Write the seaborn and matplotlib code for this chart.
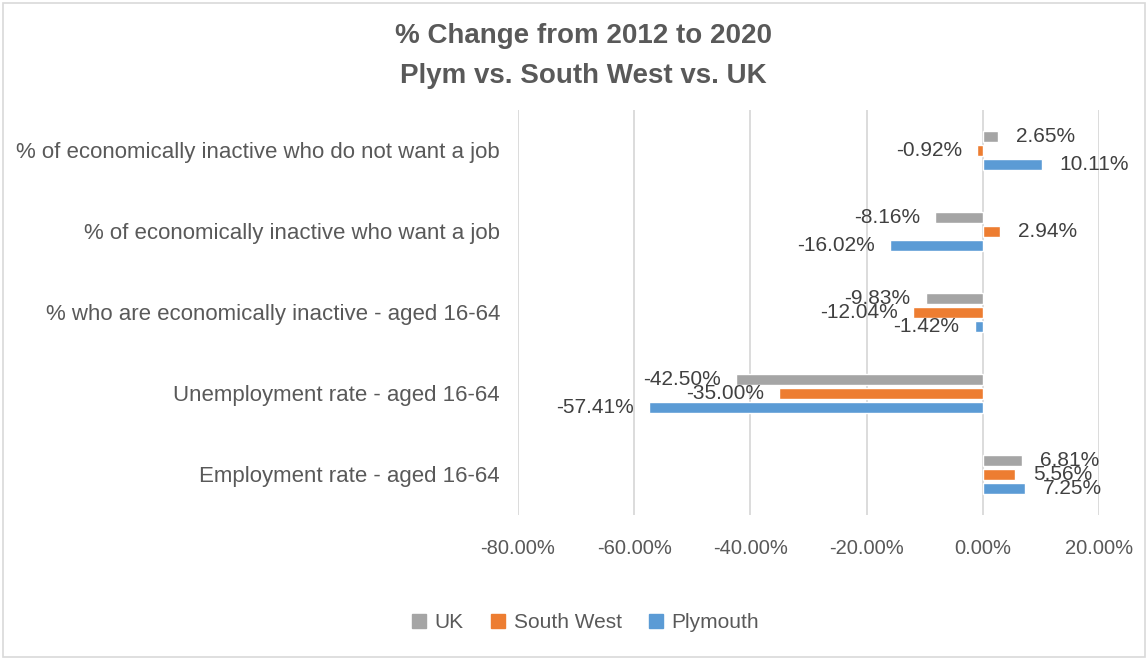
import matplotlib
matplotlib.use("Agg")
import matplotlib.pyplot as plt
import matplotlib.patches as mpatches
import seaborn as sns
import pandas as pd

# Categories, listed top to bottom
categories = [
    "% of economically inactive who do not want a job",
    "% of economically inactive who want a job",
    "% who are economically inactive - aged 16-64",
    "Unemployment rate - aged 16-64",
    "Employment rate - aged 16-64",
]
series = ["UK", "South West", "Plymouth"]
uk_values = [2.65, -8.16, -9.83, -42.50, 6.81]
south_west_values = [-0.92, 2.94, -12.04, -35.00, 5.56]
plymouth_values = [10.11, -16.02, -1.42, -57.41, 7.25]
x_ticks = [-80, -60, -40, -20, 0, 20]

colors = {"UK": "#A5A5A5", "South West": "#ED7D31", "Plymouth": "#5B9BD5"}
text_color = "#595959"

sns.set_theme(style="white")
plt.rcParams["font.family"] = ["Liberation Sans", "DejaVu Sans"]

rows = []
for name, vals in zip(series, [uk_values, south_west_values, plymouth_values]):
    for cat, v in zip(categories, vals):
        rows.append({"category": cat, "series": name, "value": v})
df = pd.DataFrame(rows)

fig = plt.figure(figsize=(11.48, 6.61), dpi=100)
ax = fig.add_axes([0.4512, 0.2209, 0.5061, 0.6127])

sns.barplot(data=df, y="category", x="value", hue="series", order=categories,
            hue_order=series, palette=colors, orient="h", width=0.52,
            errorbar=None, ax=ax, saturation=1, legend=True)

# Slim the bars slightly so a thin gap separates neighbours
for p in ax.patches:
    h = p.get_height()
    if h > 0:
        new_h = h * 0.84
        p.set_y(p.get_y() + (h - new_h) / 2)
        p.set_height(new_h)

# Value labels at the end of each bar
for container, name in zip(ax.containers, series):
    for bar in container:
        v = bar.get_width()
        yc = bar.get_y() + bar.get_height() / 2
        if v >= 0:
            ax.annotate(f"{v:.2f}%", (v, yc), xytext=(13, 0), textcoords="offset points",
                        ha="left", va="center", fontsize=15, color="#404040")
        else:
            ax.annotate(f"{v:.2f}%", (v, yc), xytext=(-11, 0), textcoords="offset points",
                        ha="right", va="center", fontsize=15, color="#404040")

ax.set_xlim(-80, 20)
ax.set_xticks(x_ticks)
ax.set_xticklabels([f"{t:.2f}%" for t in x_ticks])
ax.xaxis.grid(True, color="#D9D9D9", linewidth=1.3)
ax.set_axisbelow(True)
ax.tick_params(axis="x", length=0, labelsize=14.5, colors=text_color, pad=17)
ax.tick_params(axis="y", length=0, labelsize=16, colors=text_color, pad=13)
ax.set_xlabel("")
ax.set_ylabel("")
for s in ax.spines.values():
    s.set_visible(False)

# Legend along the bottom
handles = [mpatches.Patch(color=colors[s]) for s in series]
ax.legend(handles, series, loc="center", bbox_to_anchor=(0.51, 0.0575),
          bbox_transform=fig.transFigure, ncol=3, frameon=False, fontsize=15,
          handlelength=0.7, handleheight=0.7, handletextpad=0.4, columnspacing=1.3,
          labelcolor=text_color)

fig.text(0.508, 0.945, "% Change from 2012 to 2020", ha="center", va="center",
         fontsize=20, fontweight="bold", color=text_color)
fig.text(0.508, 0.885, "Plym vs. South West vs. UK", ha="center", va="center",
         fontsize=20, fontweight="bold", color=text_color)

# Chart area border
fig.patches.append(mpatches.Rectangle((0.003, 0.006), 0.994, 0.99, transform=fig.transFigure,
                                      fill=False, edgecolor="#D9D9D9", linewidth=1.2))

fig.savefig("out.png", dpi=100)
